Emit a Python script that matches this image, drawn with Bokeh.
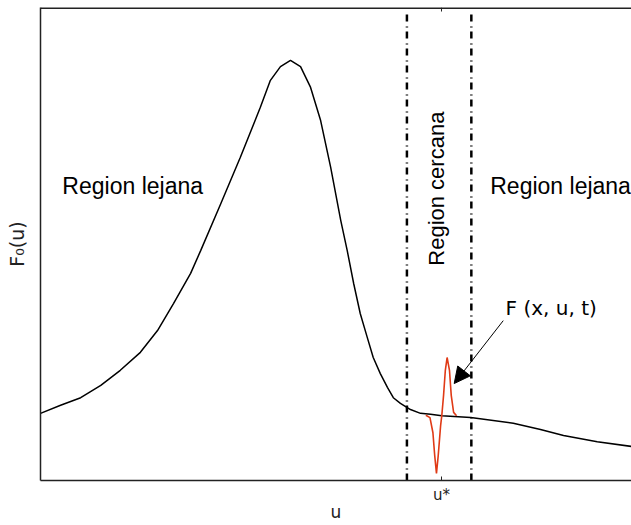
from bokeh.plotting import figure
from bokeh.models import Range1d, FixedTicker, Arrow, NormalHead
from bokeh.core.properties import value
from bokeh.embed import file_html
from bokeh.resources import INLINE

# Main distribution F0(u)
u_vals = [0.00, 0.34, 0.68, 1.02, 1.35, 1.69, 1.98, 2.25, 2.54, 2.71, 3.05,
          3.38, 3.72, 3.89, 4.06, 4.23, 4.40, 4.57, 4.74, 4.91, 5.08, 5.19, 5.30,
          5.41, 5.53, 5.63, 5.75, 5.87, 5.97, 6.09, 6.26, 6.43, 6.60, 6.79, 7.28,
          8.00, 8.46, 8.85, 9.42, 10.00]
f0_vals = [1.42, 1.59, 1.75, 2.01, 2.33, 2.71, 3.17, 3.74, 4.38, 4.86, 5.85,
           6.83, 7.89, 8.46, 8.75, 8.88, 8.75, 8.31, 7.61, 6.62, 5.50, 4.86, 4.16,
           3.53, 3.02, 2.60, 2.26, 1.97, 1.75, 1.63, 1.50, 1.42, 1.40, 1.37, 1.33,
           1.21, 1.08, 0.95, 0.82, 0.72]

# Perturbation F(x,u,t) near u*
red_u = [6.52, 6.59, 6.64, 6.67, 6.70, 6.73, 6.77, 6.79, 6.82, 6.85, 6.88, 6.92,
         6.95, 6.99, 7.04]
red_f = [1.38, 1.33, 1.01, 0.53, 0.15, 0.53, 1.16, 1.37, 1.80, 2.33, 2.60, 2.33,
         1.80, 1.44, 1.37]

u_star = 6.785
region_bounds = [6.20, 7.29]
region_top = 9.9
tick_labels = {6.785: "u*"}
y_top = 10.0
top_tick_len = 0.085

arrow_start = (7.83, 3.38)
arrow_end = (7.00, 2.05)

p = figure(width=631, height=525, x_range=Range1d(0, 10), y_range=Range1d(0, y_top),
           output_backend="svg", toolbar_location=None,
           min_border_left=40, min_border_right=0, min_border_top=7, min_border_bottom=45)
p.outline_line_color = None
p.grid.visible = False
p.background_fill_color = "white"
p.border_fill_color = "white"

axis_color = "#222222"
# bottom axis
xa = p.xaxis[0]
xa.ticker = FixedTicker(ticks=[u_star])
xa.major_label_overrides = tick_labels
xa.major_tick_in = 4
xa.major_tick_out = 0
xa.minor_tick_line_color = None
xa.axis_line_width = 1.5
xa.axis_line_color = axis_color
xa.major_tick_line_color = axis_color
xa.major_label_text_font = "DejaVu Sans"
xa.major_label_text_font_size = "15px"
xa.major_label_text_color = "#222222"
xa.major_label_standoff = 5
xa.axis_label = "u"
xa.axis_label_text_font = "DejaVu Sans"
xa.axis_label_text_font_style = "normal"
xa.axis_label_text_font_size = "17px"
xa.axis_label_text_color = "#222222"
xa.axis_label_standoff = -5

# left axis
ya = p.yaxis[0]
ya.ticker = FixedTicker(ticks=[])
ya.minor_tick_line_color = None
ya.major_tick_line_color = None
ya.axis_line_width = 1.5
ya.axis_line_color = axis_color
ya.axis_label = "F₀(u)"
ya.axis_label_text_font = "DejaVu Sans"
ya.axis_label_text_font_style = "normal"
ya.axis_label_text_font_size = "19px"
ya.axis_label_text_color = "#222222"
ya.axis_label_standoff = 13

# top border (half clipped by the frame) and top tick at u*
p.segment(x0=[0], y0=[y_top], x1=[10], y1=[y_top], line_color=axis_color, line_width=3)
p.segment(x0=[u_star], y0=[y_top], x1=[u_star], y1=[y_top - top_tick_len],
          line_color=axis_color, line_width=1)

# region boundaries
p.segment(x0=region_bounds, y0=[0, 0], x1=region_bounds, y1=[region_top, region_top],
          line_color="black", line_width=2.5, line_dash="7 4 1 5")

p.line(u_vals, f0_vals, line_color="black", line_width=1.5)
p.line(red_u, red_f, line_color="#e03a16", line_width=1.6)

p.add_layout(Arrow(end=NormalHead(size=16, fill_color="black", line_color="black", line_width=1),
                   x_start=arrow_start[0], y_start=arrow_start[1],
                   x_end=arrow_end[0], y_end=arrow_end[1], line_width=1, line_color="black"))

p.text(x=[0.37, 7.61], y=[6.22, 6.22], text=["Region lejana", "Region lejana"],
       text_font=value("Liberation Sans"), text_font_size="23px", text_color="black",
       text_align="left", text_baseline="middle")
p.text(x=[6.70], y=[6.17], text=["Region cercana"], angle=1.5708,
       text_font=value("Liberation Sans"), text_font_size="22px", text_color="black",
       text_align="center", text_baseline="middle")
p.text(x=[7.87], y=[3.64], text=["F (x, u, t)"],
       text_font=value("DejaVu Sans"), text_font_size="20px", text_color="black",
       text_align="left", text_baseline="middle")

open("out.html", "w").write(file_html(p, INLINE))
